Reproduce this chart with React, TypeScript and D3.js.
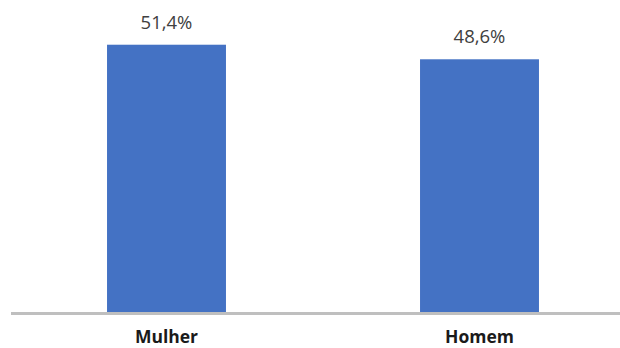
import React from "react";
import * as d3 from "d3";

const categories = ["Mulher", "Homem"];
const values = [51.4, 48.6];
const valueLabels = ["51,4%", "48,6%"];

export default function App() {
  const W = 620;
  const H = 348;
  const baseY = 312;
  const x = d3
    .scaleBand<string>()
    .domain(categories)
    .range([11, 635])
    .paddingInner(0.62)
    .paddingOuter(0.3068);
  const y = d3.scaleLinear().domain([0, 60]).range([baseY, 0]);

  return (
    <svg
      width={W}
      height={H}
      style={{ position: "absolute", left: 0, top: 0 }}
      fontFamily="'Open Sans', sans-serif"
    >
      <rect width={W} height={H} fill="#ffffff" />
      {categories.map((c, i) => (
        <g key={c}>
          <rect
            x={x(c)!}
            y={y(values[i])}
            width={x.bandwidth()}
            height={baseY - y(values[i])}
            fill="#4472C4"
          />
          <text
            x={x(c)! + x.bandwidth() / 2}
            y={y(values[i]) - 16}
            textAnchor="middle"
            fontSize={18.5}
            fill="#404040"
          >
            {valueLabels[i]}
          </text>
          <text
            x={x(c)! + x.bandwidth() / 2}
            y={343}
            textAnchor="middle"
            fontSize={17.5}
            fontWeight="bold"
            fill="#1a1a1a"
          >
            {c}
          </text>
        </g>
      ))}
      <line x1={11} x2={620} y1={baseY + 1.5} y2={baseY + 1.5} stroke="#bfbfbf" strokeWidth={3} />
    </svg>
  );
}
